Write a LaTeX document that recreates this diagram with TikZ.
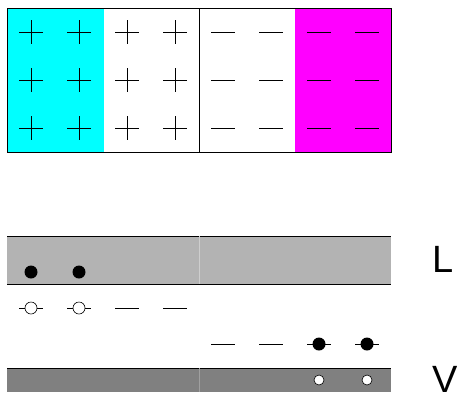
\documentclass[tikz,border=0pt]{standalone}
\usepackage{fontspec}
\setmainfont{Liberation Sans}
\definecolor{cyanfill}{RGB}{0,255,255}
\definecolor{magfill}{RGB}{255,0,255}
\definecolor{bandL}{RGB}{179,179,179}
\definecolor{bandV}{RGB}{128,128,128}
\begin{document}
\begin{tikzpicture}[x=1pt,y=-1pt,
  sign/.style={line width=0.8pt,black},
  edge/.style={line width=0.9pt,black},
  filleddot/.style={fill=black},
  opendot/.style={fill=white,draw=black,line width=0.6pt},
  lbl/.style={font=\fontsize{38}{38}\selectfont,inner sep=0pt,anchor=base west}]
\useasboundingbox (0,0) rectangle (457,392);
% top box
\fill[cyanfill] (7,8) rectangle (104,152);
\fill[magfill] (295,8) rectangle (391,152);
\draw[edge] (7,8) rectangle (391,152);
\draw[edge] (199,8) -- (199,152);
\foreach \y in {32,80,128}{
  \foreach \x in {31,79,127,175}{
    \draw[sign] (\x-12,\y) -- (\x+12,\y) (\x,\y-12) -- (\x,\y+12);
  }
  \foreach \x in {223,271,319,367}{
    \draw[sign] (\x-12,\y) -- (\x+12,\y);
  }
}
% bands
\fill[bandL] (7,236) rectangle (391,284);
\draw[edge] (7,236) -- (391,236) (7,284) -- (391,284);
\draw[white!35!bandL,line width=0.4pt] (199,236) -- (199,284);
\fill[bandV] (7,368) rectangle (391,392);
\draw[edge] (7,368) -- (391,368);
\draw[white!25!bandV,line width=0.4pt] (199,368) -- (199,392);
% L band electrons
\foreach \x in {31,79} \fill[filleddot] (\x,272) circle (6.5);
% upper level
\foreach \x in {31,79}{
  \draw[sign] (\x-12,308) -- (\x+12,308);
  \draw[opendot] (\x,308) circle (6);
}
\foreach \x in {127,175} \draw[sign] (\x-12,308) -- (\x+12,308);
% lower level
\foreach \x in {223,271} \draw[sign] (\x-12,344) -- (\x+12,344);
\foreach \x in {319,367}{
  \draw[sign] (\x-12,344) -- (\x+12,344);
  \fill[filleddot] (\x,344) circle (6.5);
}
% V band holes
\foreach \x in {319,367} \draw[opendot] (\x,380) circle (5);
% labels
\node[lbl] (labL) at (432,272.5) {L};
\node[lbl] (labV) at (432.5,392.5) {V};
\end{tikzpicture}
\end{document}
